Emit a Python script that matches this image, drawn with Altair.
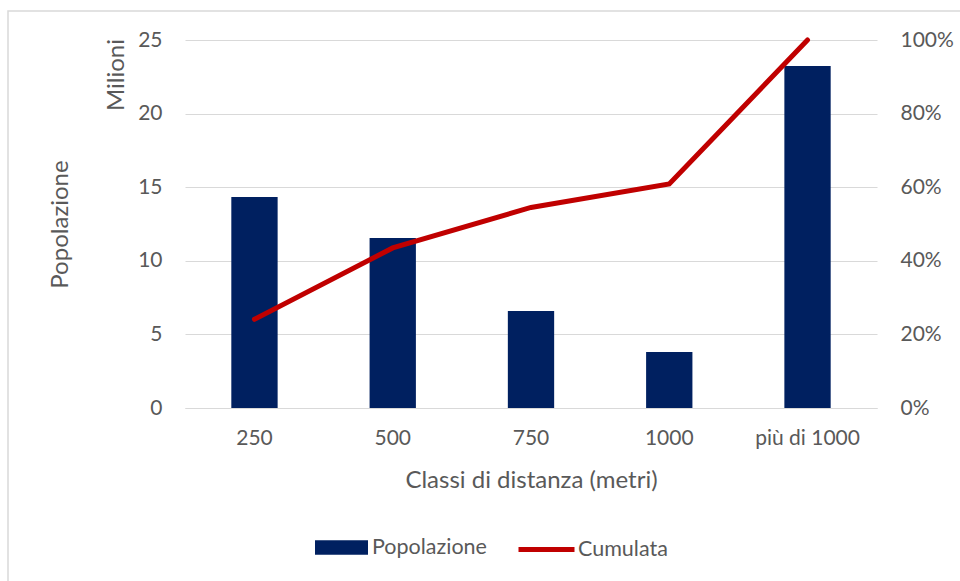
import altair as alt
import pandas as pd

categorie = ["250", "500", "750", "1000", "più di 1000"]
popolazione = [14.33, 11.55, 6.59, 3.80, 23.23]  # milioni
cumulata = [0.241, 0.435, 0.545, 0.609, 1.0]

df = pd.DataFrame({
    "classe": categorie,
    "pop": popolazione,
    "cum": cumulata,
    "serie_bar": ["Popolazione"] * 5,
    "serie_line": ["Cumulata"] * 5,
})

FONT = "Lato"
GREY = "#595959"
GRID = "#D9D9D9"

x_enc = alt.X(
    "classe:N", sort=categorie,
    scale=alt.Scale(paddingInner=0.665, paddingOuter=0.335),
    axis=alt.Axis(title="Classi di distanza (metri)", labelAngle=0, labelPadding=19,
                  domain=True, domainColor=GRID, ticks=False, grid=False,
                  titleY=72, titleBaseline="middle", titleFontWeight="normal"),
)

bars = alt.Chart(df).mark_bar(color="#002060").encode(
    x=x_enc,
    y=alt.Y("pop:Q", scale=alt.Scale(domain=[0, 25], nice=False),
            axis=alt.Axis(title="Popolazione", values=[0, 5, 10, 15, 20, 25], grid=True,
                          gridColor=GRID, domain=False, ticks=False, labelPadding=23,
                          titleX=-125, titleY=184, titleAngle=270, titleAlign="center",
                          titleBaseline="middle", titleFontWeight="normal")),
    fill=alt.Fill("serie_bar:N", scale=alt.Scale(domain=["Popolazione"], range=["#002060"]),
                  legend=alt.Legend(title=None, orient="none", legendX=130, legendY=481,
                                    symbolType="M-1,-0.27H1V0.27H-1Z", symbolSize=2809,
                                    symbolStrokeWidth=0, labelOffset=4)),
)

line = alt.Chart(df).mark_line(strokeWidth=5, strokeCap="round", color="#C00000").encode(
    x=alt.X("classe:N", sort=categorie),
    y=alt.Y("cum:Q", scale=alt.Scale(domain=[0, 1], nice=False),
            axis=alt.Axis(title=None, orient="right", format=".0%",
                          values=[0, 0.2, 0.4, 0.6, 0.8, 1.0], grid=False,
                          domain=False, ticks=False, labelPadding=23)),
    stroke=alt.Stroke("serie_line:N", scale=alt.Scale(domain=["Cumulata"], range=["#C00000"]),
                      legend=alt.Legend(title=None, orient="none", legendX=331, legendY=479,
                                        symbolType="stroke", symbolSize=3136,
                                        symbolStrokeWidth=5, labelOffset=1)),
)

milioni = alt.Chart(pd.DataFrame({"t": ["Milioni"]})).mark_text(
    angle=270, font=FONT, fontSize=24, color=GREY, align="center", baseline="middle"
).encode(text="t:N", x=alt.value(-68), y=alt.value(35))

border = alt.Chart(pd.DataFrame({"b": [1]})).mark_rect(
    fill=None, stroke=GRID, strokeWidth=1.5
).encode(x=alt.value(-177), x2=alt.value(800), y=alt.value(-29), y2=alt.value(600))

chart = alt.layer(border, bars, line, milioni).resolve_scale(
    y="independent", fill="independent", stroke="independent"
).properties(
    width=692, height=368,
    autosize=alt.AutoSizeParams(type="none"),
    padding={"left": 185, "top": 40, "right": 83, "bottom": 173},
    background="white",
).configure_view(stroke=None).configure_axis(
    labelFont=FONT, titleFont=FONT, labelFontSize=21, titleFontSize=24,
    labelColor=GREY, titleColor=GREY,
).configure_legend(
    labelFont=FONT, labelFontSize=21.5, labelColor=GREY,
)

chart.save("out.html", embed_options={"renderer": "svg", "actions": False})
